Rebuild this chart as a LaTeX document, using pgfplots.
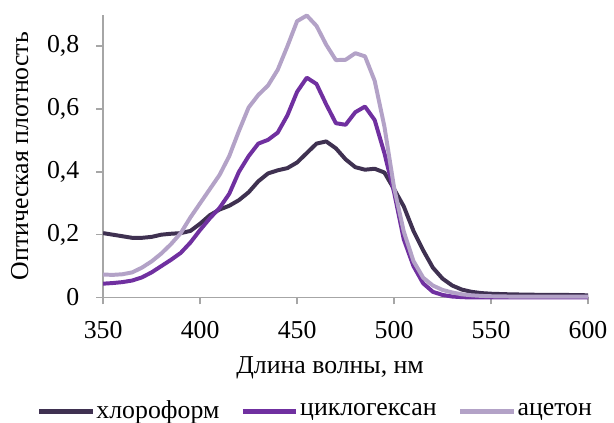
\documentclass[border=0pt]{standalone}
\usepackage{fontspec}
\setmainfont{Liberation Serif}
\usepackage{pgfplots}
\pgfplotsset{compat=1.18}
\definecolor{chl}{HTML}{3F3151}
\definecolor{cyc}{HTML}{7030A0}
\definecolor{ace}{HTML}{B3A2C7}
\definecolor{axg}{HTML}{A6A6A6}
\begin{document}
\begin{tikzpicture}
\begin{axis}[
  scale only axis, width=244.5pt, height=142.5pt,
  xmin=350, xmax=600, ymin=0, ymax=0.9,
  xtick={350,400,...,600}, ytick={0,0.2,0.4,0.6,0.8},
  axis x line*=bottom, axis y line*=left,
  axis line style={axg, line width=0.8pt},
  tick style={axg, line width=0.8pt}, tick align=outside, major tick length=3.5pt,
  xticklabel={\pgfmathprintnumber[assume math mode=true]{\tick}},
  yticklabel={\pgfmathprintnumber[assume math mode=true,use comma,fixed,precision=1]{\tick}},
  ticklabel style={font=\rmfamily\fontsize{13}{15}\selectfont},
  xticklabel style={yshift=-5pt},
  yticklabel style={xshift=-5pt},
  label style={font=\fontsize{13}{15}\selectfont},
  xlabel={Длина волны, нм},
  ylabel={Оптическая плотность},
  xlabel style={at={(axis description cs:0.468,-0.25)}, anchor=center},
  ylabel style={at={(axis description cs:-0.172,0.5)}, anchor=center, rotate=0},
  clip=false,
  legend columns=3,
  legend style={at={(axis description cs:0.4366,-0.402)}, anchor=center, draw=none,
    font=\fontsize{13}{15}\selectfont, inner sep=0pt, nodes={inner sep=0.6pt},
    /tikz/every even column/.append style={column sep=10pt}},
  legend image code/.code={\draw[#1, line width=2.6pt] (0pt,0pt) -- (27pt,0pt);},
  every axis plot/.append style={line width=2pt, line join=round},
]
\addplot[chl] coordinates {
(350,0.205)(355,0.200)(360,0.195)(365,0.190)(370,0.190)(375,0.193)(380,0.200)(385,0.203)
(390,0.205)(395,0.212)(400,0.235)(405,0.262)(410,0.280)(415,0.292)(420,0.310)(425,0.335)
(430,0.370)(435,0.395)(440,0.405)(445,0.412)(450,0.430)(455,0.460)(460,0.490)(465,0.497)
(470,0.475)(475,0.440)(480,0.415)(485,0.407)(490,0.410)(495,0.398)(500,0.345)(505,0.290)
(510,0.212)(515,0.150)(520,0.095)(525,0.060)(530,0.038)(535,0.025)(540,0.018)(545,0.014)
(550,0.012)(555,0.011)(560,0.010)(570,0.009)(580,0.008)(590,0.008)(600,0.007)};
\addlegendentry{хлороформ}
\addplot[cyc] coordinates {
(350,0.044)(355,0.046)(360,0.049)(365,0.054)(370,0.064)(375,0.080)(380,0.100)(385,0.120)
(390,0.142)(395,0.175)(400,0.215)(405,0.252)(410,0.285)(415,0.330)(420,0.400)(425,0.450)
(430,0.490)(435,0.502)(440,0.525)(445,0.580)(450,0.655)(455,0.700)(460,0.680)(465,0.615)
(470,0.555)(475,0.550)(480,0.590)(485,0.608)(490,0.565)(495,0.460)(500,0.335)(505,0.185)
(510,0.100)(515,0.045)(520,0.018)(525,0.008)(530,0.003)(535,0.001)(540,0)(560,0)(580,0)(600,0)};
\addlegendentry{циклогексан}
\addplot[ace] coordinates {
(350,0.073)(355,0.072)(360,0.074)(365,0.080)(370,0.095)(375,0.115)(380,0.140)(385,0.170)
(390,0.205)(395,0.255)(400,0.300)(405,0.345)(410,0.390)(415,0.450)(420,0.530)(425,0.605)
(430,0.645)(435,0.675)(440,0.725)(445,0.800)(450,0.880)(455,0.898)(460,0.865)(465,0.805)
(470,0.756)(475,0.757)(480,0.778)(485,0.768)(490,0.690)(495,0.545)(500,0.350)(505,0.210)
(510,0.116)(515,0.063)(520,0.038)(525,0.024)(530,0.016)(535,0.010)(540,0.007)(545,0.005)
(550,0.004)(560,0.003)(580,0.003)(600,0.003)};
\addlegendentry{ацетон}
\coordinate (bl) at (rel axis cs:0,0);
\coordinate (tr) at (rel axis cs:1,1);
\end{axis}
\path (bl) ++(-52pt,-61.5pt) rectangle ([shift={(10.5pt,7.5pt)}]tr);
\end{tikzpicture}
\end{document}
